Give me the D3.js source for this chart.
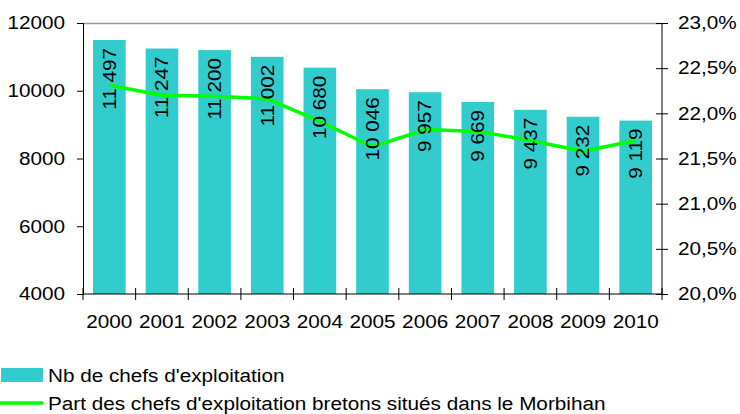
<!DOCTYPE html>
<html lang="fr">
<head>
<meta charset="utf-8">
<style>
  body { margin: 0; background: white; }
  svg { font-family: 'Liberation Sans', Arial, sans-serif; }
  .axis path, .axis line { stroke: black; }
  .axis text { font-size: 18px; fill: black; }
</style>
</head>
<body>
<svg width="740" height="414"></svg>
<script src="https://d3js.org/d3.v7.min.js"></script>
<script>
const years = ["2000","2001","2002","2003","2004","2005","2006","2007","2008","2009","2010"];
const chefs = [11497, 11247, 11200, 11002, 10680, 10046, 9957, 9669, 9437, 9232, 9119];
const partMorbihan = [22.31, 22.20, 22.19, 22.16, 21.91, 21.63, 21.82, 21.80, 21.70, 21.58, 21.70];
const leftTicks = [4000, 6000, 8000, 10000, 12000];
const rightTicks = [20, 20.5, 21, 21.5, 22, 22.5, 23];
const legendLabels = ["Nb de chefs d'exploitation", "Part des chefs d'exploitation bretons situés dans le Morbihan"];

const svg = d3.select("svg");
const m = {left: 83, right: 662, top: 23, bottom: 294};

const x = d3.scaleBand().domain(years).range([m.left, m.right]).paddingInner(0.38).paddingOuter(0.19);
const xStep = d3.scaleBand().domain(years).range([m.left, m.right]);
const y = d3.scaleLinear().domain([4000, 12000]).range([m.bottom, m.top]);
const y2 = d3.scaleLinear().domain([20, 23]).range([m.bottom, m.top]);

const barColor = "#33CCCC", lineColor = "#00FF00";

// the original font is a bit wider than Liberation Sans
function widen(sel, k = 1.15) {
  sel.each(function() {
    const L = this.getComputedTextLength();
    this.setAttribute("textLength", L * k);
    this.setAttribute("lengthAdjust", "spacingAndGlyphs");
  });
}

// top border
svg.append("line").attr("x1", m.left).attr("x2", m.right)
  .attr("y1", m.top + 0.5).attr("y2", m.top + 0.5)
  .attr("stroke", "#999").attr("stroke-width", 1.5);

// bars
svg.append("g").selectAll("rect").data(chefs).join("rect")
  .attr("x", (d, i) => x(years[i]))
  .attr("width", x.bandwidth())
  .attr("y", d => y(d))
  .attr("height", d => y(4000) - y(d))
  .attr("fill", barColor);

// line
const line = d3.line()
  .x((d, i) => xStep(years[i]) + xStep.bandwidth() / 2)
  .y(d => y2(d));
svg.append("path").datum(partMorbihan)
  .attr("d", line).attr("fill", "none")
  .attr("stroke", lineColor).attr("stroke-width", 3.5)
  .attr("stroke-linejoin", "round");

// bar labels
const fmt = v => d3.format(",")(v).replace(/,/g, " ");
svg.append("g").selectAll("text").data(chefs).join("text")
  .attr("transform", (d, i) => `translate(${x(years[i]) + x.bandwidth() / 2},${y(d) + 8}) rotate(-90)`)
  .attr("text-anchor", "end")
  .attr("dy", "0.35em")
  .attr("font-size", 18)
  .text(fmt)
  .call(widen);

// axes
svg.append("g").attr("class", "axis")
  .attr("transform", `translate(${m.left},0)`)
  .call(d3.axisLeft(y).tickValues(leftTicks).tickSize(6).tickPadding(12).tickFormat(d3.format("d")))
  .call(g => g.selectAll("text").call(widen));

svg.append("g").attr("class", "axis")
  .attr("transform", `translate(${m.right},0)`)
  .call(d3.axisRight(y2).tickValues(rightTicks).tickSize(6).tickPadding(10)
    .tickFormat(d => d.toFixed(1).replace(".", ",") + "%"))
  .call(g => g.selectAll(".tick line").attr("x1", -6))
  .call(g => g.select(".domain").attr("d", `M0,${m.top}V${m.bottom}`))
  .call(g => g.selectAll("text").call(widen));

const xAxis = svg.append("g").attr("class", "axis")
  .attr("transform", `translate(0,${m.bottom})`)
  .call(d3.axisBottom(xStep).tickSize(6).tickPadding(15).tickSizeOuter(0));
xAxis.select(".domain").attr("d", `M${m.left},0H${m.right}`);
xAxis.selectAll(".tick line")
  .attr("transform", `translate(${-xStep.bandwidth() / 2},0)`)
  .attr("y1", -6);
xAxis.selectAll("text").call(widen);
xAxis.append("line")
  .attr("x1", m.right).attr("x2", m.right).attr("y1", -6).attr("y2", 6)
  .attr("stroke", "black");

// legend
const lg = svg.append("g");
lg.append("rect").attr("x", 1).attr("y", 368).attr("width", 42).attr("height", 14).attr("fill", barColor);
lg.append("text").attr("x", 48).attr("y", 382).attr("font-size", 18).text(legendLabels[0]).call(widen);
lg.append("line").attr("x1", 0).attr("x2", 43).attr("y1", 403).attr("y2", 403)
  .attr("stroke", lineColor).attr("stroke-width", 3.5);
lg.append("text").attr("x", 48).attr("y", 410).attr("font-size", 18).text(legendLabels[1]).call(widen);
</script>
</body>
</html>
